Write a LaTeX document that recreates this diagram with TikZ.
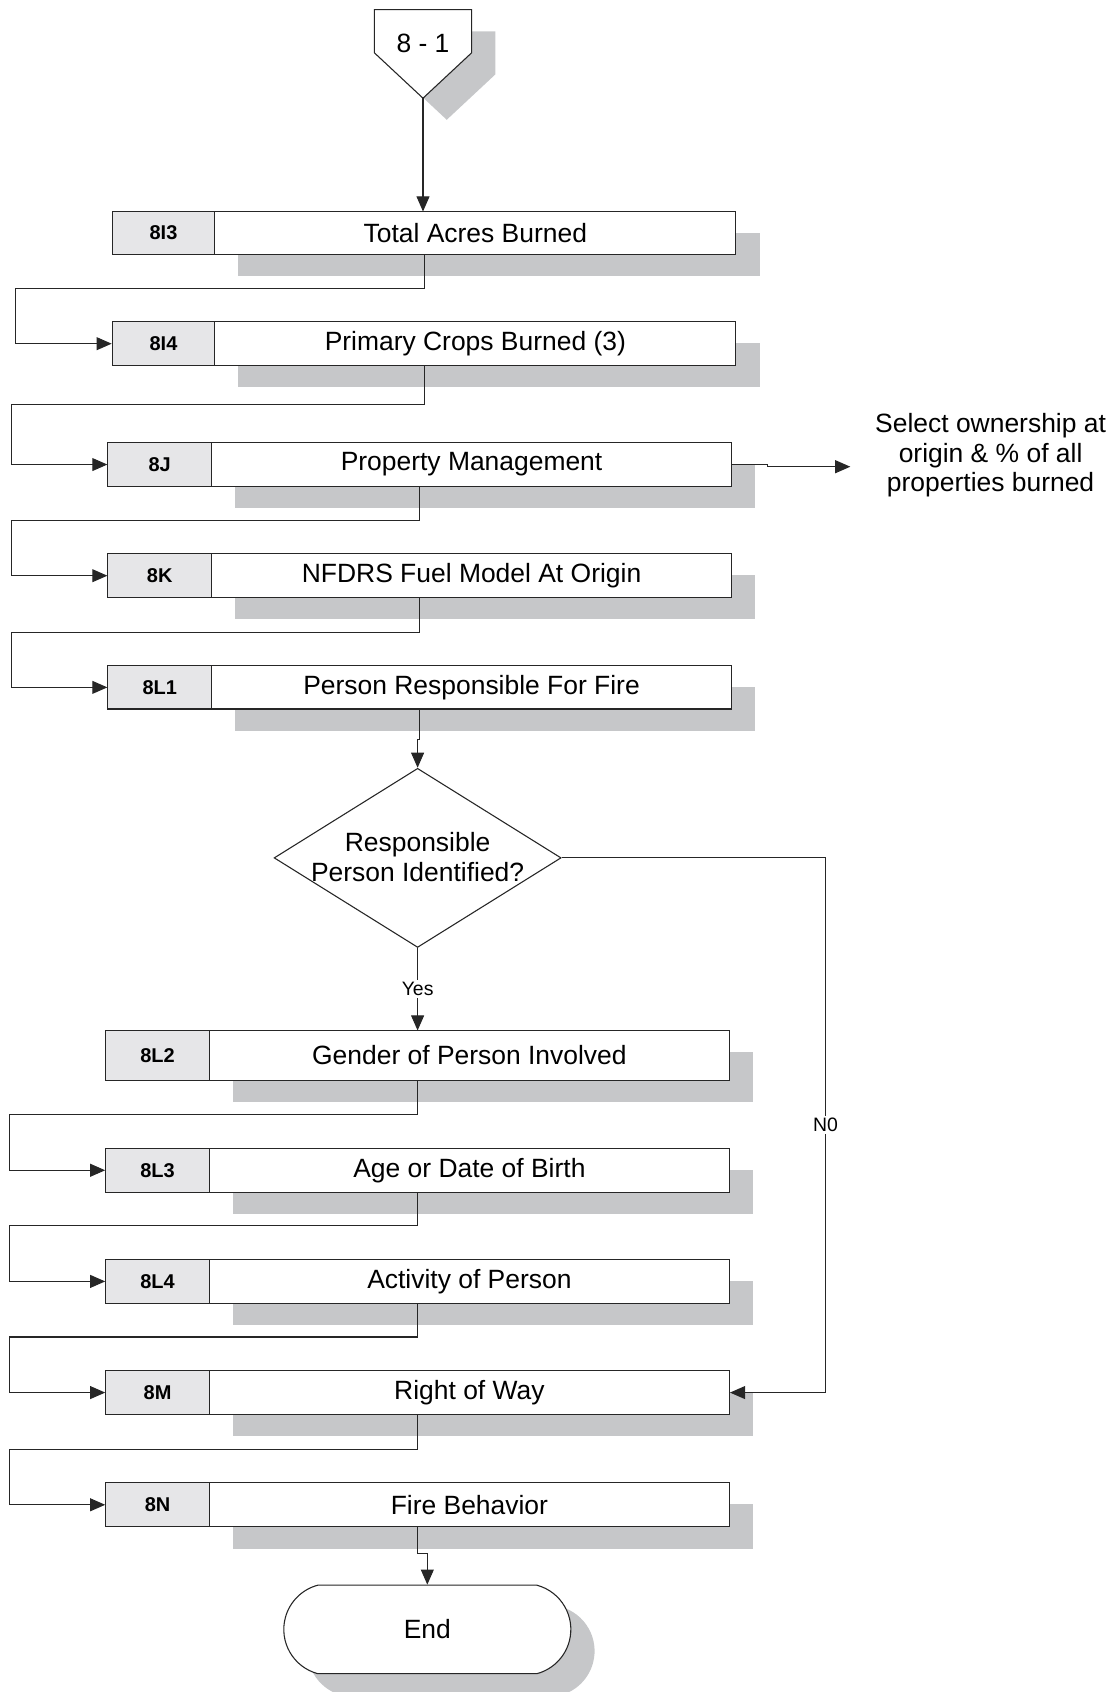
\documentclass[tikz,border=0pt]{standalone}
\usepackage{fontspec}
\setmainfont{Liberation Sans}
\usetikzlibrary{arrows.meta,shapes.geometric,shapes.misc,calc}
\pgfdeclarelayer{background}
\pgfsetlayers{background,main}
\definecolor{linec}{HTML}{262626}
\definecolor{cellc}{HTML}{E6E6E8}
\definecolor{shadowc}{HTML}{C6C7C9}
\tikzset{
  conn/.style={draw=linec, line width=1pt},
  arr/.style={-{Triangle[length=14pt,width=12pt]}},
  codecell/.style={draw=linec, line width=1pt, fill=cellc, inner sep=0pt,
    font=\fontsize{18.5}{20}\selectfont\bfseries},
  mainbox/.style={draw=linec, line width=1pt, fill=white, inner sep=0pt},
  lbl/.style={fill=white, inner sep=2pt, font=\fontsize{18}{20}\selectfont},
}
\newcommand{\mybox}[8]{%
  \begin{pgfonlayer}{background}
    \fill[shadowc] (#5+22,#7+20) rectangle (#6+22,#8+20);
  \end{pgfonlayer}
  \node[codecell, minimum width={#5-#4}, minimum height={#8-#7}] (#1c) at ({(#4+#5)/2},{(#7+#8)/2}) {#2};
  \node[mainbox, minimum width={#6-#5}, minimum height={#8-#7}] (#1) at ({(#5+#6)/2},{(#7+#8)/2}) {#3};
  \coordinate (#1top) at ({(#4+#6)/2},#7);
  \coordinate (#1bot) at ({(#4+#6)/2},#8);
}
\begin{document}
\begin{tikzpicture}[x=1pt,y=-1pt, font=\fontsize{24.5}{27.5}\selectfont]
\useasboundingbox (0,0) rectangle (1034,1568);

% off-page connector
\begin{pgfonlayer}{background}
  \fill[shadowc] (369,29) -- (459,29) -- (459,69) -- (414,111) -- (369,69) -- cycle;
\end{pgfonlayer}
\coordinate (offtip) at (392,91);
\draw[conn, fill=white] (347,9) -- (437,9) -- (437,49) -- (offtip) -- (347,49) -- cycle;
\node (offtxt) at (392,40) {8 - 1};

% boxes
\mybox{b1}{8I3}{Total Acres Burned}{104}{199}{682}{196}{236}
\mybox{b2}{8I4}{Primary Crops Burned (3)}{104}{199}{682}{298}{339}
\mybox{b3}{8J}{Property Management}{100}{196}{678}{410}{451}
\mybox{b4}{8K}{NFDRS Fuel Model At Origin}{100}{196}{678}{513}{554}
\mybox{b5}{8L1}{Person Responsible For Fire}{100}{196}{678}{617}{657}
\mybox{b6}{8L2}{Gender of Person Involved}{98}{194}{676}{955}{1001}
\mybox{b7}{8L3}{Age or Date of Birth}{98}{194}{676}{1064}{1105}
\mybox{b8}{8L4}{Activity of Person}{98}{194}{676}{1167}{1208}
\mybox{b9}{8M}{Right of Way}{98}{194}{676}{1270}{1311}
\mybox{b10}{8N}{Fire Behavior}{98}{194}{676}{1374}{1415}

% side note
\node[align=center, inner sep=0pt] (sel) at (918,422) {Select ownership at\\origin \& \% of all\\properties burned};
\coordinate (selin) at (788,432.5);

% decision
\node[diamond, draw=linec, line width=1pt, fill=white, inner sep=0pt,
  minimum width=266pt, minimum height=166pt] (dia) at (387,795) {};
\node[align=center, inner sep=0pt] (diatxt) at (387,794.5) {Responsible\\Person Identified?};

% end
\begin{pgfonlayer}{background}
  \node[rounded rectangle, rounded rectangle arc length=150, fill=shadowc,
    minimum width=266pt, minimum height=82pt, inner sep=0pt] (endsh) at (418,1530) {};
\end{pgfonlayer}
\node[rounded rectangle, rounded rectangle arc length=150, draw=linec, line width=1pt,
  fill=white, minimum width=266pt, minimum height=82pt, inner sep=0pt] (endn) at (396,1510) {End};

% connectors
\draw[conn,arr] (offtip) -- (offtip |- b1top);
\draw[conn,arr] (b1bot) -- ++(0,31) -| ([xshift=-89pt]b2c.west) -- (b2c.west);
\draw[conn,arr] (b2bot) -- ++(0,36) -| ([xshift=-89pt]b3c.west) -- (b3c.west);
\draw[conn,arr] (b3.east) -- ++(33,0) -- ++(0,2) -- (selin);
\draw[conn,arr] (b3bot) -- ++(0,31) -| ([xshift=-89pt]b4c.west) -- (b4c.west);
\draw[conn,arr] (b4bot) -- ++(0,32) -| ([xshift=-89pt]b5c.west) -- (b5c.west);
\draw[conn,arr] (b5bot) -- ++(0,28) -| (dia.north);
\draw[conn,arr] (dia.south) -- node[lbl] {Yes} (dia.south |- b6top);
\coordinate (nx) at (765,0);
\draw[conn,arr] (dia.east) -- (dia.east -| nx) -- node[lbl] {N0} (b9.east -| nx) -- (b9.east);
\draw[conn,arr] (b6bot) -- ++(0,32) -| ([xshift=-89pt]b7c.west) -- (b7c.west);
\draw[conn,arr] (b7bot) -- ++(0,31) -| ([xshift=-89pt]b8c.west) -- (b8c.west);
\draw[conn,arr] (b8bot) -- ++(0,31) -| ([xshift=-89pt]b9c.west) -- (b9c.west);
\draw[conn,arr] (b9bot) -- ++(0,32) -| ([xshift=-89pt]b10c.west) -- (b10c.west);
\draw[conn,arr] (b10bot) -- ++(0,25) -| (endn.north);
\end{tikzpicture}
\end{document}
